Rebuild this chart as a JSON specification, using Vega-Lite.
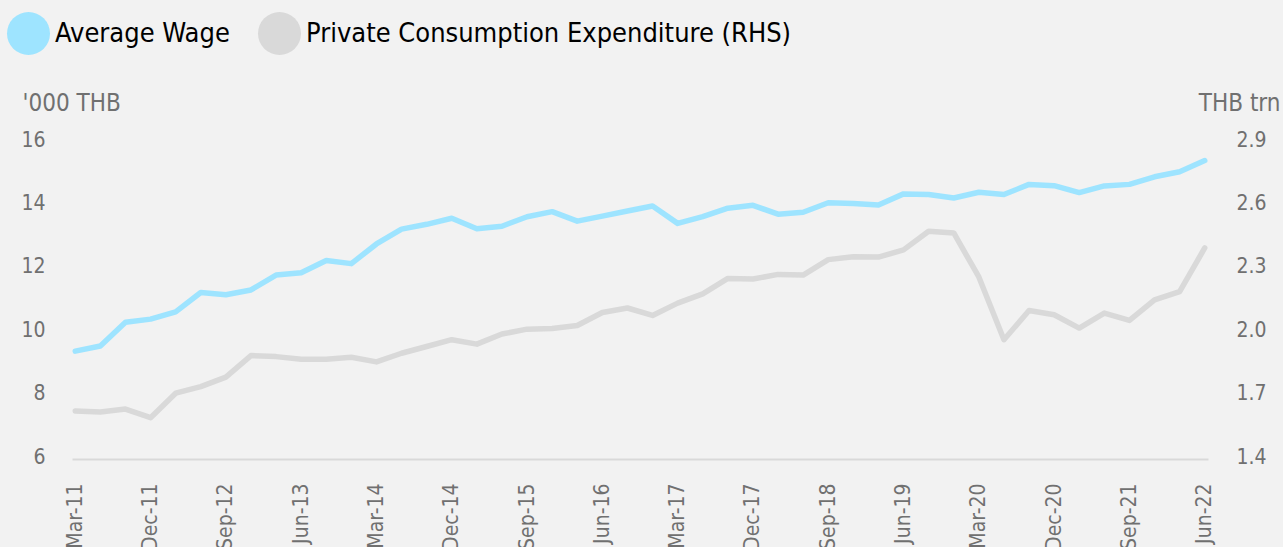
{
  "$schema": "https://vega.github.io/schema/vega-lite/v6.json",
  "width": 1136,
  "height": 317,
  "autosize": {"type": "none"},
  "padding": {"left": 72, "top": 140, "right": 75, "bottom": 90},
  "background": "#f2f2f2",
  "config": {
    "view": {"stroke": null},
    "font": "Liberation Sans Narrow, DejaVu Sans Condensed, Roboto",
    "axis": {"grid": false, "ticks": false, "labelFontWeight": "normal", "labelColor": "#707070", "titleColor": "#707070", "labelFontSize": 21, "titleFontSize": 24, "titleFontWeight": "normal"}
  },
  "data": {
    "values": [
      {"q": "Mar-11", "wage": 9.34, "pce": 1.618},
      {"q": "Jun-11", "wage": 9.50, "pce": 1.613},
      {"q": "Sep-11", "wage": 10.25, "pce": 1.627},
      {"q": "Dec-11", "wage": 10.35, "pce": 1.586},
      {"q": "Mar-12", "wage": 10.58, "pce": 1.702},
      {"q": "Jun-12", "wage": 11.19, "pce": 1.733},
      {"q": "Sep-12", "wage": 11.12, "pce": 1.778},
      {"q": "Dec-12", "wage": 11.27, "pce": 1.880},
      {"q": "Mar-13", "wage": 11.74, "pce": 1.875},
      {"q": "Jun-13", "wage": 11.81, "pce": 1.863},
      {"q": "Sep-13", "wage": 12.20, "pce": 1.863},
      {"q": "Dec-13", "wage": 12.10, "pce": 1.872},
      {"q": "Mar-14", "wage": 12.72, "pce": 1.850},
      {"q": "Jun-14", "wage": 13.19, "pce": 1.891},
      {"q": "Sep-14", "wage": 13.34, "pce": 1.923},
      {"q": "Dec-14", "wage": 13.53, "pce": 1.955},
      {"q": "Mar-15", "wage": 13.20, "pce": 1.934},
      {"q": "Jun-15", "wage": 13.28, "pce": 1.982},
      {"q": "Sep-15", "wage": 13.58, "pce": 2.005},
      {"q": "Dec-15", "wage": 13.74, "pce": 2.008},
      {"q": "Mar-16", "wage": 13.44, "pce": 2.022},
      {"q": "Jun-16", "wage": 13.60, "pce": 2.084},
      {"q": "Sep-16", "wage": 13.76, "pce": 2.105},
      {"q": "Dec-16", "wage": 13.92, "pce": 2.070},
      {"q": "Mar-17", "wage": 13.37, "pce": 2.128},
      {"q": "Jun-17", "wage": 13.58, "pce": 2.172},
      {"q": "Sep-17", "wage": 13.85, "pce": 2.245},
      {"q": "Dec-17", "wage": 13.94, "pce": 2.242},
      {"q": "Mar-18", "wage": 13.66, "pce": 2.264},
      {"q": "Jun-18", "wage": 13.72, "pce": 2.261},
      {"q": "Sep-18", "wage": 14.02, "pce": 2.334},
      {"q": "Dec-18", "wage": 14.00, "pce": 2.348},
      {"q": "Mar-19", "wage": 13.95, "pce": 2.346},
      {"q": "Jun-19", "wage": 14.30, "pce": 2.380},
      {"q": "Sep-19", "wage": 14.28, "pce": 2.468},
      {"q": "Dec-19", "wage": 14.17, "pce": 2.460},
      {"q": "Mar-20", "wage": 14.35, "pce": 2.252},
      {"q": "Jun-20", "wage": 14.28, "pce": 1.955},
      {"q": "Sep-20", "wage": 14.60, "pce": 2.093},
      {"q": "Dec-20", "wage": 14.56, "pce": 2.073},
      {"q": "Mar-21", "wage": 14.34, "pce": 2.010},
      {"q": "Jun-21", "wage": 14.55, "pce": 2.081},
      {"q": "Sep-21", "wage": 14.60, "pce": 2.046},
      {"q": "Dec-21", "wage": 14.84, "pce": 2.144},
      {"q": "Mar-22", "wage": 15.00, "pce": 2.183},
      {"q": "Jun-22", "wage": 15.35, "pce": 2.389}
    ]
  },
  "encoding": {
    "x": {
      "field": "q",
      "type": "ordinal",
      "sort": null,
      "scale": {"type": "point", "padding": 0.13},
      "axis": {
        "title": null,
        "values": ["Mar-11", "Dec-11", "Sep-12", "Jun-13", "Mar-14", "Dec-14", "Sep-15", "Jun-16", "Mar-17", "Dec-17", "Sep-18", "Jun-19", "Mar-20", "Dec-20", "Sep-21", "Jun-22"],
        "labelAngle": -90,
        "labelAlign": "right",
        "labelBaseline": "middle",
        "labelPadding": 24,
        "labelFontSize": 21,
        "domain": true,
        "domainColor": "#d9d9d9",
        "domainWidth": 2,
        "offset": 2
      }
    }
  },
  "layer": [
    {
      "encoding": {
        "y": {
          "field": "wage",
          "type": "quantitative",
          "scale": {"domain": [6, 16], "nice": false, "zero": false},
          "axis": {
            "orient": "left",
            "values": [6, 8, 10, 12, 14, 16],
            "domain": false,
            "labelPadding": 27,
            "title": "'000 THB",
            "titleAngle": 0,
            "titleAlign": "left",
            "titleBaseline": "middle",
            "titleX": -50,
            "titleY": -37
          }
        }
      },
      "layer": [
        {
          "mark": {"type": "point", "filled": true, "size": 0, "opacity": 1},
          "encoding": {
            "color": {
              "datum": "Average Wage",
              "scale": {"domain": ["Average Wage", "Private Consumption Expenditure (RHS)"], "range": ["#9ee4ff", "#d9d9d9"]},
              "legend": {
                "title": null,
                "orient": "none",
                "legendX": -65,
                "legendY": -128,
                "direction": "horizontal",
                "symbolType": "circle",
                "symbolSize": 1849,
                "symbolStrokeWidth": 0,
                "symbolOpacity": 1,
                "labelFontSize": 27,
                "labelColor": "#000000",
                "labelOffset": 5,
                "columnPadding": 28,
                "labelLimit": 600
              }
            }
          }
        },
        {
          "mark": {"type": "line", "strokeWidth": 5.5, "strokeCap": "round", "strokeJoin": "round", "color": "#9ee4ff"}
        }
      ]
    },
    {
      "encoding": {
        "y": {
          "field": "pce",
          "type": "quantitative",
          "scale": {"domain": [1.4, 2.9], "nice": false, "zero": false},
          "axis": {
            "orient": "right",
            "values": [1.4, 1.7, 2.0, 2.3, 2.6, 2.9],
            "format": ".1f",
            "domain": false,
            "labelPadding": 28,
            "title": "THB trn",
            "titleAngle": 0,
            "titleAlign": "right",
            "titleBaseline": "middle",
            "titleX": 72,
            "titleY": -37
          }
        }
      },
      "layer": [
        {
          "mark": {"type": "point", "filled": true, "size": 0, "opacity": 1},
          "encoding": {"color": {"datum": "Private Consumption Expenditure (RHS)"}}
        },
        {
          "mark": {"type": "line", "strokeWidth": 5.5, "strokeCap": "round", "strokeJoin": "round", "color": "#d9d9d9"}
        }
      ]
    }
  ],
  "resolve": {"scale": {"y": "independent"}, "axis": {"y": "independent"}}
}
